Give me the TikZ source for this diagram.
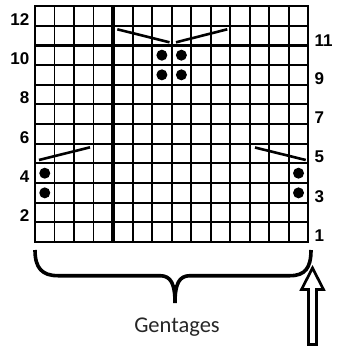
\documentclass[tikz,border=0pt]{standalone}
\usepackage{fontspec}
\newfontfamily\labfont{Liberation Sans}
\newfontfamily\capfont{Carlito}
\begin{document}
\begin{tikzpicture}[x=1pt,y=-1pt,
  gridline/.style={line width=1.8pt},
  heavy/.style={line width=3.3pt},
  slant/.style={line width=2.6pt},
  stitch/.style={fill=black},
  rowlab/.style={font=\labfont\bfseries\fontsize{17}{17}\selectfont, inner sep=0pt},
  bracepath/.style={line width=3.6pt},
  hollowarrow/.style={line width=2.7pt, line join=miter},
]
\useasboundingbox (0,0) rectangle (337,351);
\def\gx{35}\def\gy{6}\def\cw{19.52}\def\ch{19.67}
% thin grid
\foreach \i in {1,...,13}
  \draw[gridline] ({\gx+\i*\cw},\gy) -- ({\gx+\i*\cw},{\gy+12*\ch});
\foreach \j in {1,...,11}
  \draw[gridline] (\gx,{\gy+\j*\ch}) -- ({\gx+14*\cw},{\gy+\j*\ch});
\draw[gridline] (\gx,\gy) rectangle ({\gx+14*\cw},{\gy+12*\ch});
% heavy lines
\draw[heavy] ({\gx+4*\cw},\gy) -- ({\gx+4*\cw},{\gy+12*\ch});
\draw[heavy] (\gx,{\gy+2*\ch}) -- ({\gx+14*\cw},{\gy+2*\ch});
% slanted lines
\draw[slant] (117.3,29.3) -- (169.5,42.3);
\draw[slant] (176,42.3) -- (227.3,29.3);
\draw[slant] (39,160) -- (90,147.3);
\draw[slant] (255,147.5) -- (305.7,160);
% dots
\foreach \c/\r in {7/10,8/10,7/9,8/9,1/4,1/3,14/4,14/3}
  \fill[stitch] ({\gx+(\c-0.5)*\cw},{\gy+(12.5-\r)*\ch}) circle (5.5pt);
% row labels
\foreach \r in {12,10,8,6,4,2}
  \node[rowlab, anchor=east] (L\r) at (29.5,{\gy+(12.5-\r)*\ch+3.5}) {\r};
\foreach \r in {9,7,5,3,1}
  \node[rowlab, anchor=west] (R\r) at (314.5,{\gy+(12.5-\r)*\ch+3.5}) {\r};
\node[rowlab, anchor=west] (R11) at (314.5,{\gy+(12.5-11)*\ch+5}) {11};
% brace
\draw[bracepath] (35,250) .. controls (35,268) and (42,275.7) .. (58,275.7)
  -- (160,275.7) .. controls (171,275.7) and (175,284) .. (175,303)
  .. controls (175,284) and (179,275.7) .. (190,275.7)
  -- (290,275.7) .. controls (305,275.7) and (311,268) .. (311,250);
% caption
\node[font=\capfont\fontsize{22.5}{22.5}\selectfont, inner sep=0pt, anchor=base, text=black!85] (cap) at (177,332.3) {Gentages};
% hollow arrow
\draw[hollowarrow] (312.5,268) -- (323.5,289.5) -- (316.5,289.5) -- (316.5,344.5)
  -- (308.5,344.5) -- (308.5,289.5) -- (301.5,289.5) -- cycle;
\end{tikzpicture}
\end{document}
